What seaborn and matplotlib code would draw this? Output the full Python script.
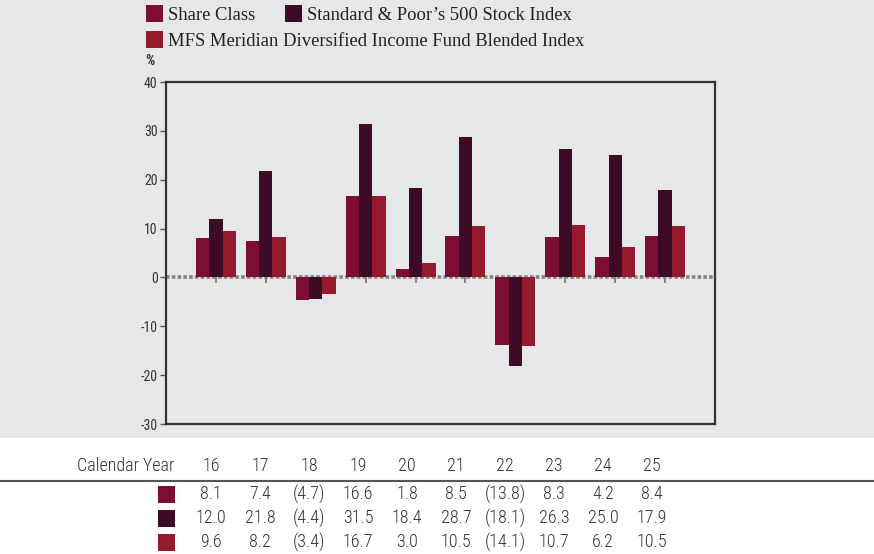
import numpy as np
import pandas as pd
import seaborn as sns
import matplotlib.pyplot as plt
from matplotlib.patches import Rectangle

# data
years = ["16", "17", "18", "19", "20", "21", "22", "23", "24", "25"]
share_class = [8.1, 7.4, -4.7, 16.6, 1.8, 8.5, -13.8, 8.3, 4.2, 8.4]
sp500 = [12.0, 21.8, -4.4, 31.5, 18.4, 28.7, -18.1, 26.3, 25.0, 17.9]
blended = [9.6, 8.2, -3.4, 16.7, 3.0, 10.5, -14.1, 10.7, 6.2, 10.5]
series_names = ["Share Class", "Standard & Poor\u2019s 500 Stock Index",
                "MFS Meridian Diversified Income Fund Blended Index"]
colors = ["#7b0f33", "#3d0b26", "#951a2e"]
y_ticks = [-30, -20, -10, 0, 10, 20, 30, 40]

bg = "#e6e7e9"
narrow = "Roboto Condensed"

df = pd.DataFrame({
    "year": years * 3,
    "value": share_class + sp500 + blended,
    "series": [series_names[0]] * 10 + [series_names[1]] * 10 + [series_names[2]] * 10,
})

sns.set_style("white")
plt.rcParams["axes.unicode_minus"] = False

fig = plt.figure(figsize=(8.74, 5.54), dpi=100, facecolor="white")
fig.patches.append(Rectangle((0, 116.5 / 554), 1, 1, transform=fig.transFigure,
                             facecolor=bg, edgecolor="none", zorder=-10))

ax = fig.add_axes([166 / 874, 130 / 554, 549 / 874, 342 / 554])
ax.set_facecolor(bg)

sns.barplot(data=df, x="year", y="value", hue="series", order=years,
            hue_order=series_names, palette=dict(zip(series_names, colors)),
            saturation=1, width=0.8, linewidth=0, legend=False, ax=ax, zorder=3)

ax.axhline(0, color="#858585", lw=2.6, ls=(0, (1, 0.6)), zorder=2)
ax.set_xlim(-1, 10)
ax.set_ylim(-30, 40)
ax.set_yticks(y_ticks)
ax.set_yticklabels([str(t) for t in y_ticks], fontfamily=narrow,
                   fontsize=10, color="#333333")
ax.tick_params(axis="y", direction="out", length=4, width=1, color="#555555", pad=2, left=True)
ax.set_xticks([])
ax.set_xlabel("")
ax.set_ylabel("")
for s in ax.spines.values():
    s.set_visible(True)
    s.set_color("#333333")
    s.set_linewidth(1.6)

# small ticks on the zero line
sec = ax.secondary_xaxis(30 / 70)
sec.set_xticks(range(len(years)))
sec.set_xticklabels([])
sec.tick_params(direction="out", length=4, width=1.2, color="#777777")
sec.spines["bottom"].set_visible(False)

fig.text(150 / 874, 1 - 61 / 554, "%", fontfamily=narrow, fontsize=10.5, fontweight="bold",
         color="#333333", ha="center", va="center")

# legend
W, H = 874, 554
leg_items = [(146, 5, series_names[0]), (285, 5, series_names[1]), (146, 31, series_names[2])]
for (lx, ly, name), c in zip(leg_items, colors):
    fig.patches.append(Rectangle((lx / W, 1 - (ly + 17) / H), 17 / W, 17 / H,
                                 transform=fig.transFigure, facecolor=c, edgecolor="none"))
    fig.text((lx + 22) / W, 1 - (ly + 10.5) / H, name, fontfamily="Liberation Serif",
             fontsize=13.4, color="#222222", ha="left", va="center")

# table
tfont = dict(fontfamily=narrow, fontweight="light", fontsize=13, color="#333333", va="center")
fig.text(174 / W, 1 - 466 / H, "Calendar Year", ha="right", **tfont)
for i, yr in enumerate(years):
    fig.text((211 + 49 * i) / W, 1 - 466 / H, yr, ha="center", **tfont)
fig.add_artist(plt.Line2D([0, 1], [1 - 481 / H] * 2, transform=fig.transFigure,
                          color="#555555", lw=1.5))


def fmt(v):
    return f"({abs(v):.1f})" if v < 0 else f"{v:.1f}"


for r, (vals, c) in enumerate(zip([share_class, sp500, blended], colors)):
    ry = 494 + 24 * r
    fig.patches.append(Rectangle((158 / W, 1 - (ry + 8.5) / H), 17 / W, 17 / H,
                                 transform=fig.transFigure, facecolor=c, edgecolor="none"))
    for i, v in enumerate(vals):
        fig.text((211 + 49 * i) / W, 1 - ry / H, fmt(v), ha="center", **tfont)

fig.savefig("out.png", dpi=100, facecolor="white")
